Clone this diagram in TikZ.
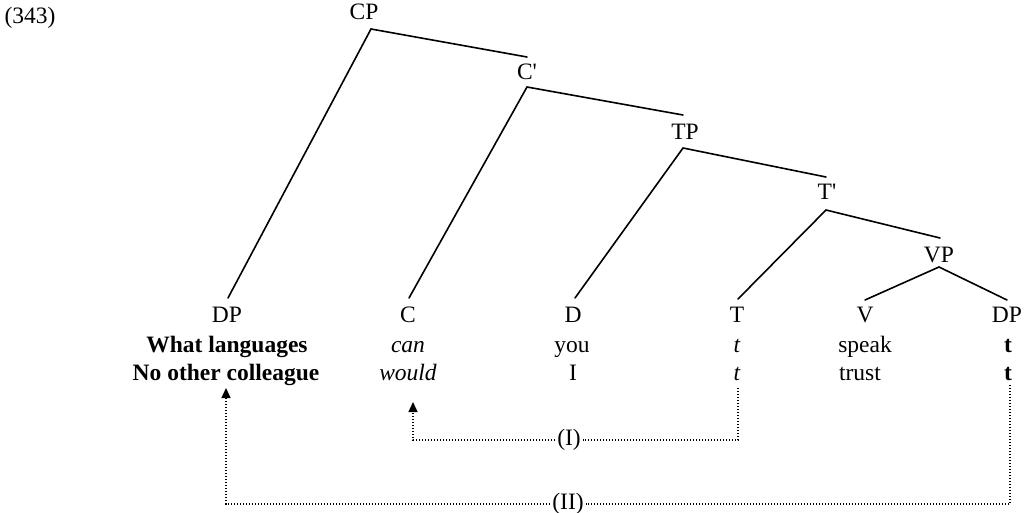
\documentclass[tikz,border=0pt]{standalone}
\usepackage{fontspec}
\setmainfont{Liberation Serif}
\newfontfamily\sqfont{Liberation Serif}
\usetikzlibrary{arrows.meta}
\begin{document}
\begin{tikzpicture}[x=1pt,y=-1pt,
  font=\fontsize{23.5}{28}\selectfont,
  lab/.style={anchor=base,inner sep=0pt},
  branch/.style={line width=1.6pt,line cap=round},
  mv/.style={line width=1.3pt,dash pattern=on 1.3pt off 1.7pt},
  tip/.style={-{Triangle[width=9pt,length=10pt]}},
  mvlab/.style={fill=white,inner sep=2pt}]
\useasboundingbox (0,0) rectangle (1028,513);
% labels
\node[lab] (ex) at (30,24) {(343)};
\node[lab] (cp) at (364,20) {CP};
\node[lab] (cbar) at (527,80) {C{\sqfont '}};
\node[lab] (tp) at (685,140) {TP};
\node[lab] (tbar) at (827,200) {T{\sqfont '}};
\node[lab] (vp) at (939,262) {VP};
% leaves
\node[lab] (dp1) at (227,322) {DP};
\node[lab] (c) at (408,322) {C};
\node[lab] (d) at (573,322) {D};
\node[lab] (t) at (737,322) {T};
\node[lab] (v) at (865,322) {V};
\node[lab] (dp2) at (1007,322) {DP};
% row 1
\node[lab] (wl) at (227,352) {\bfseries What languages};
\node[lab] (can) at (408,352) {\itshape can};
\node[lab] (you) at (572,352) {you};
\node[lab] (ta) at (737,352) {\itshape t};
\node[lab] (speak) at (865,352) {speak};
\node[lab] (tba) at (1008,352) {\bfseries t};
% row 2
\node[lab] (noc) at (226,380) {\bfseries No other colleague};
\node[lab] (would) at (408,380) {\itshape would};
\node[lab] (i) at (573,380) {I};
\node[lab] (tb) at (737,380) {\itshape t};
\node[lab] (trust) at (860,380) {trust};
\node[lab] (tbb) at (1008,380) {\bfseries t};
% branch points
\coordinate (cpv) at (371,29);
\coordinate (cbt) at (527,57);
\coordinate (cbv) at (527,87);
\coordinate (tpt) at (683,115);
\coordinate (tpv) at (683,148);
\coordinate (tbt) at (826,177);
\coordinate (tbv) at (826,210);
\coordinate (vpt) at (940,238);
\coordinate (vpv) at (939,267);
\coordinate (dp1t) at (228,298);
\coordinate (ct) at (409,298);
\coordinate (dt) at (575,298);
\coordinate (tt) at (738,299);
\coordinate (vt) at (865,300);
\coordinate (dp2t) at (1007,300);
\draw[branch] (dp1t) -- (cpv) -- (cbt);
\draw[branch] (ct) -- (cbv) -- (tpt);
\draw[branch] (dt) -- (tpv) -- (tbt);
\draw[branch] (tt) -- (tbv) -- (vpt);
\draw[branch] (vt) -- (vpv) -- (dp2t);
% movement arrows
\node[mvlab] (m1) at (569,440) {(I)};
\node[mvlab] (m2) at (568,504) {(II)};
\coordinate (s1) at (738,388);
\coordinate (e1) at (413,402);
\coordinate (s2) at (1010,385);
\coordinate (e2) at (226,388);
\draw[mv] (s1) |- (m1.east);
\draw[mv,tip] (m1.west) -| (e1);
\draw[mv] (s2) |- (m2.east);
\draw[mv,tip] (m2.west) -| (e2);
\end{tikzpicture}
\end{document}
